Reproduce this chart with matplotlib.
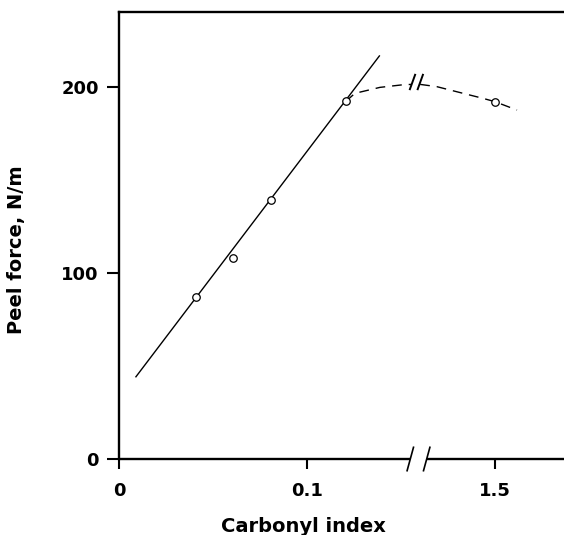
import matplotlib
matplotlib.use("Agg")
import matplotlib.pyplot as plt
import numpy as np

# ---- data ----
# measured points: carbonyl index, peel force (N/m)
point_x = [0.041, 0.0605, 0.0807, 0.1207, 1.5]
point_y = [86.9, 108.2, 139.4, 192.3, 192.1]

# straight fitted line end points
line_x = [0.009, 0.1385]
line_y = [44.2, 216.7]

# dashed curve (left of break, then right of break)
curve_left_x = [0.1207, 0.1255, 0.1388, 0.151, 0.1556]
curve_left_y = [192.3, 196.6, 199.8, 201.2, 201.4]
curve_right_x = [1.4602, 1.469, 1.483, 1.4936, 1.5, 1.5117]
curve_right_y = [201.4, 200.2, 196.6, 193.9, 192.1, 187.6]

xtick_values = [0, 0.1, 1.5]
xtick_labels = ["0", "0.1", "1.5"]
ytick_values = [0, 100, 200]
ytick_labels = ["0", "100", "200"]

# axis break: values above BREAK are shifted by OFFSET
BREAK = 0.5
OFFSET = 1.3


def tx(vals):
    return [v - OFFSET if v > BREAK else v for v in vals]


W, H, DPI = 564, 535, 100
fig = plt.figure(figsize=(W / DPI, H / DPI), dpi=DPI)
ax = fig.add_axes([119 / W, (H - 459) / H, 1 - 119 / W, (459 - 12) / H])
XMAX = (564 - 119) / 1880
YMAX = (459 - 12) / 1.86
ax.set_xlim(0, XMAX)
ax.set_ylim(0, YMAX)

# px -> data scale helpers (for decorations)
PXX = XMAX / (W - 119)
PXY = YMAX / (459 - 12)

font = dict(family="DejaVu Sans", weight="bold")

# spines
ax.spines["right"].set_visible(False)
ax.spines["bottom"].set_visible(False)
ax.spines["left"].set_linewidth(1.7)
ax.spines["top"].set_linewidth(1.7)

# bottom axis with break
brk_l = (410 - 119) * PXX
brk_r = (427 - 119) * PXX
ax.plot([0, brk_l], [0, 0], color="black", lw=1.7, clip_on=False, solid_capstyle="butt")
ax.plot([brk_r, XMAX], [0, 0], color="black", lw=1.7, clip_on=False, solid_capstyle="butt")
for cx in (410.3, 426.7):
    u = (cx - 119) * PXX
    ax.plot([u - 3.2 * PXX, u + 3.2 * PXX], [-11.7 * PXY, 11.7 * PXY],
            color="black", lw=1.2, clip_on=False)

# ticks
ax.set_xticks(tx(xtick_values))
ax.set_xticklabels(xtick_labels, **font, fontsize=13)
ax.set_yticks(ytick_values)
ax.set_yticklabels(ytick_labels, **font, fontsize=13)
ax.tick_params(axis="x", direction="out", length=7.5, width=1.5, pad=9)
ax.tick_params(axis="y", direction="out", length=8.5, width=1.5, pad=6)

# fitted line
ax.plot(tx(line_x), line_y, color="black", lw=1.0)

# dashed curve
ax.plot(tx(curve_left_x), curve_left_y, color="black", lw=1.0, dashes=(7, 5))
ax.plot(tx(curve_right_x), curve_right_y, color="black", lw=1.0, dashes=(7, 5))
# break marks on curve
for cx in (412.5, 420.3):
    u = (cx - 119) * PXX
    yc = (459 - 82) * PXY
    ax.plot([u - 2.6 * PXX, u + 2.6 * PXX], [yc - 7.2 * PXY, yc + 7.2 * PXY],
            color="black", lw=1.4)

# points
ax.plot(tx(point_x), point_y, linestyle="none", marker="o", markersize=5.4,
        markerfacecolor="white", markeredgecolor="black", markeredgewidth=0.9, zorder=5)

# axis labels
fig.text(303 / W, (H - 532) / H, "Carbonyl index", ha="center", va="baseline",
         fontsize=14, **font)
fig.text(17 / W, (H - 250) / H, "Peel force, N/m", ha="center", va="center",
         rotation=90, fontsize=14, **font)

fig.savefig("out.png", dpi=DPI)
